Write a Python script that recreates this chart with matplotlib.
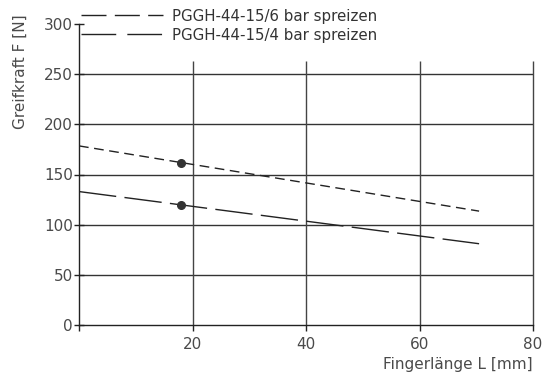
import matplotlib.pyplot as plt
from matplotlib.lines import Line2D

# Fingerlänge L [mm] vs Greifkraft F [N]
length = [0, 70.5]
force_6bar = [178.5, 113.5]
force_4bar = [133, 81]
marker_x = [18]
marker_6bar = [161]
marker_4bar = [120]

labels = ["PGGH-44-15/6 bar spreizen", "PGGH-44-15/4 bar spreizen"]
xticks = [0, 20, 40, 60, 80]
yticks = [0, 50, 100, 150, 200, 250, 300]

fig = plt.figure(figsize=(5.53, 3.77), dpi=100)
ax = fig.add_axes([79 / 553, 52 / 377, 454 / 553, 301 / 377])

txt = '#4a4a4a'
grid_top = 263

# grid
ax.hlines(yticks[1:-1], 0, 80, color='#333333', lw=1, zorder=1)
ax.vlines(xticks[1:], 0, grid_top, color='#444444', lw=1, zorder=1, clip_on=False)

# curves
ax.plot(length, force_6bar, color='#222222', lw=1, dashes=(7, 4), zorder=3)
ax.plot(length, force_4bar, color='#222222', lw=1, dashes=(27, 6), zorder=3)
ax.plot(marker_x, marker_6bar, 'o', color='#333333', ms=5.5, zorder=4)
ax.plot(marker_x, marker_4bar, 'o', color='#333333', ms=5.5, zorder=4)

ax.set_xlim(0, 80)
ax.set_ylim(0, 300)
ax.set_xticks(xticks)
ax.set_xticklabels(['', '20', '40', '60', '80'])
ax.set_yticks(yticks)

for s in ['top', 'right']:
    ax.spines[s].set_visible(False)
for s in ['left', 'bottom']:
    ax.spines[s].set_color('#222222')
    ax.spines[s].set_linewidth(1)

ax.tick_params(axis='y', direction='inout', length=7, width=1, color='#222222',
               labelsize=11, labelcolor=txt, pad=1)
ax.tick_params(axis='x', direction='out', length=4.5, width=1, color='#222222',
               labelsize=11, labelcolor=txt, pad=4)

fig.text(533 / 553, 1 - 365 / 377, "Fingerlänge L [mm]", ha='right', va='center',
         fontsize=11, color=txt)
fig.text(20 / 553, 1 - 72 / 377, "Greifkraft F [N]", rotation=90, ha='center',
         va='center', fontsize=11, color=txt)

# legend with its own dash lengths
handles = [Line2D([], [], color='#222222', lw=1, dashes=(18, 6)),
           Line2D([], [], color='#222222', lw=1, dashes=(25, 8))]
leg = fig.legend(handles, labels, loc='upper left',
                 bbox_to_anchor=(76 / 553, 1 - 4 / 377), frameon=False,
                 fontsize=10.8, handlelength=5.5, handletextpad=0.6,
                 labelspacing=0.28, borderaxespad=0, borderpad=0.3)
for t in leg.get_texts():
    t.set_color('#333333')

fig.savefig('out.png', dpi=100, facecolor='white')
